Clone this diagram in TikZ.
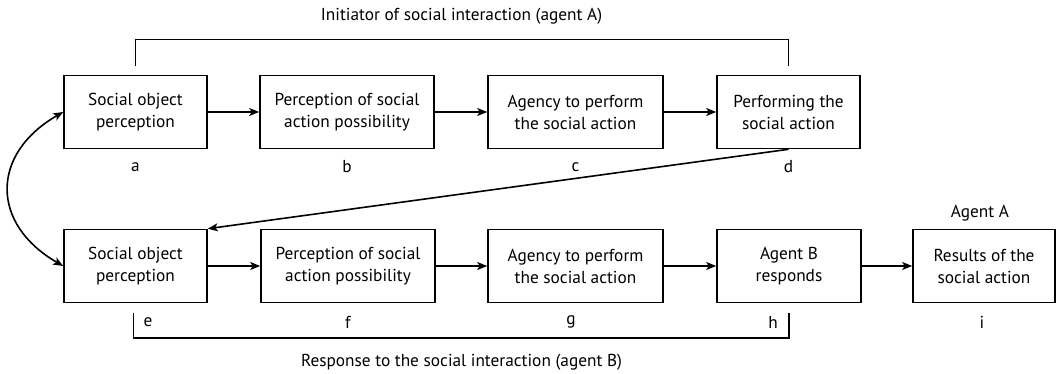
\documentclass[tikz,border=0pt]{standalone}
\usepackage{fontspec}
\setmainfont{PT Sans}
\usepackage{tikz}
\usetikzlibrary{arrows.meta}

\begin{document}
\begin{tikzpicture}[x=1pt,y=1pt,line width=1.6pt,>={Stealth[length=10pt,width=8pt,inset=2.5pt]}]
		\tikzstyle{stage}=[draw,shape=rectangle,minimum height=73pt,align=center,font=\fontsize{17.3}{22}\selectfont]
		\tikzstyle{tag}=[font=\fontsize{17.3}{20}\selectfont]

		\useasboundingbox (0,0) rectangle (1056,374);

		% agent A
		\node[stage,minimum width=143pt](a) at (135.5,262){Social object\\perception};
		\node[stage,minimum width=174pt](b) at (347,262){Perception of social\\action possibility};
		\node[stage,minimum width=175pt](c) at (575.5,262){Agency to perform\\the social action};
		\node[stage,minimum width=143pt](d) at (788.5,262){Performing the\\social action};

		% agent B
		\node[stage,minimum width=143pt](e) at (135.5,108){Social object\\perception};
		\node[stage,minimum width=174pt](f) at (348,108){Perception of social\\action possibility};
		\node[stage,minimum width=175pt](g) at (575.5,108){Agency to perform\\the social action};
		\node[stage,minimum width=144pt](h) at (789,108){Agent B\\responds};
		\node[stage,minimum width=142pt](i) at (984,108){Results of the\\social action};

		\node[tag](la) at (135.5,207){a};
		\node[tag](lb) at (347,207){b};
		\node[tag](lc) at (575.5,207){c};
		\node[tag](ld) at (788.5,207){d};
		\node[tag](le) at (148,52){e};
		\node[tag](lf) at (348,52){f};
		\node[tag](lg) at (571,52){g};
		\node[tag](lh) at (773,52){h};
		\node[tag](li) at (982,52){i};
		\node[tag](agentA) at (980,161){Agent A};

		\node[tag](topic) at (461.5,358){Initiator of social interaction (agent A)};
		\node[tag](bottomic) at (461.5,12){Response to the social interaction (agent B)};

		\draw[->] (a) -- (b);
		\draw[->] (b) -- (c);
		\draw[->] (c) -- (d);

		\draw[->] (e) -- (f);
		\draw[->] (f) -- (g);
		\draw[->] (g) -- (h);
		\draw[->] (h) -- (i);

		\draw[->] (d.south) -- (e.north east);
		\draw[<->] (a.west) to[out=210,in=150,looseness=1.4] (e.west);

		\draw ([yshift=9pt]a.north) -- ++(0,26) -| ([yshift=9pt]d.north);
		\draw ([xshift=-2pt,yshift=-10pt]e.south) -- ++(0,-25) -| ([yshift=-10pt]h.south);
	\end{tikzpicture}
\end{document}
